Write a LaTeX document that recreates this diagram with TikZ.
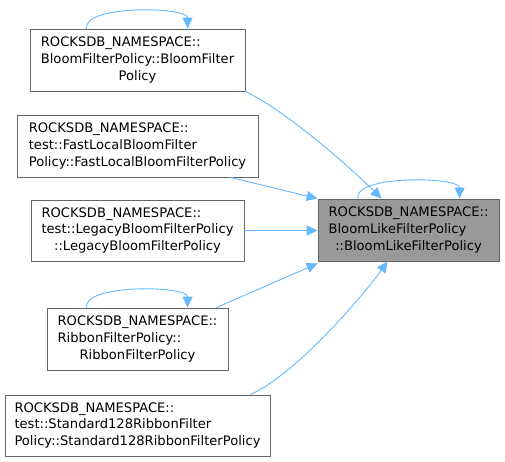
\documentclass[tikz,border=0pt]{standalone}
\usepackage{fontspec}
\setmainfont{DejaVu Sans}
\usetikzlibrary{arrows.meta,calc}
\definecolor{edgeblue}{HTML}{63B8FF}
\definecolor{boxgray}{HTML}{999999}
\definecolor{bordergray}{HTML}{666666}
\tikzset{
  fnbox/.style={draw=bordergray, line width=0.8pt, fill=white, inner sep=0pt, align=left,
    font=\fontsize{13.1}{16.7}\selectfont},
  curbox/.style={fnbox, fill=boxgray},
  edge/.style={draw=edgeblue, line width=0.9pt, -{Triangle[length=11pt,width=10pt]}},
}
\newcommand{\tl}[3]{\begin{tabular}{@{}l@{}}#1\\#2\\\multicolumn{1}{@{}c@{}}{#3}\end{tabular}}
\begin{document}
\begin{tikzpicture}[x=1pt,y=1pt]
\useasboundingbox (0,0) rectangle (505,-462);
\node[fnbox, minimum width=215, minimum height=62] (A) at (137.5,-60) {\tl{ROCKSDB\_NAMESPACE::}{BloomFilterPolicy::BloomFilter}{Policy}};
\node[fnbox, minimum width=241, minimum height=62] (B) at (137.5,-146) {\tl{ROCKSDB\_NAMESPACE::}{test::FastLocalBloomFilter}{Policy::FastLocalBloomFilterPolicy}};
\node[fnbox, minimum width=213, minimum height=61] (C) at (137.5,-230.5) {\tl{ROCKSDB\_NAMESPACE::}{test::LegacyBloomFilterPolicy}{::LegacyBloomFilterPolicy}};
\node[fnbox, minimum width=181, minimum height=62] (D) at (137.5,-339) {\tl{ROCKSDB\_NAMESPACE::}{RibbonFilterPolicy::}{RibbonFilterPolicy}};
\node[fnbox, minimum width=265, minimum height=61] (E) at (137.5,-425.5) {\tl{ROCKSDB\_NAMESPACE::}{test::Standard128RibbonFilter}{Policy::Standard128RibbonFilterPolicy}};
\node[curbox, minimum width=181, minimum height=62] (F) at (408.5,-230) {\tl{ROCKSDB\_NAMESPACE::}{BloomLikeFilterPolicy}{::BloomLikeFilterPolicy}};
% self loops
\draw[edge] ($(A.north west)+(57,0)$) .. controls +(-4,24) and +(0,22) .. ($(A.north west)+(158,0)$);
\draw[edge] ($(D.north west)+(40,0)$) .. controls +(-4,24) and +(0,22) .. ($(D.north west)+(141,0)$);
\draw[edge] ($(F.north west)+(40,0)$) .. controls +(-4,24) and +(0,22) .. ($(F.north west)+(142,0)$);
% edges to F
\draw[edge] (A.south east) .. controls +(45,-22) and +(-25,25) .. ($(F.north west)+(64,0)$);
\draw[edge] ($(B.south east)+(-28,0)$) -- (F.north west);
\draw[edge] (C.east) -- (C.east -| F.west);
\draw[edge] ($(D.north east)+(-12,0)$) -- ($(F.south west)+(0,-2)$);
\draw[edge] ($(E.north east)+(-20,0)$) .. controls +(45,20) and +(-25,-35) .. ($(F.south west)+(70,0)$);
\end{tikzpicture}
\end{document}
